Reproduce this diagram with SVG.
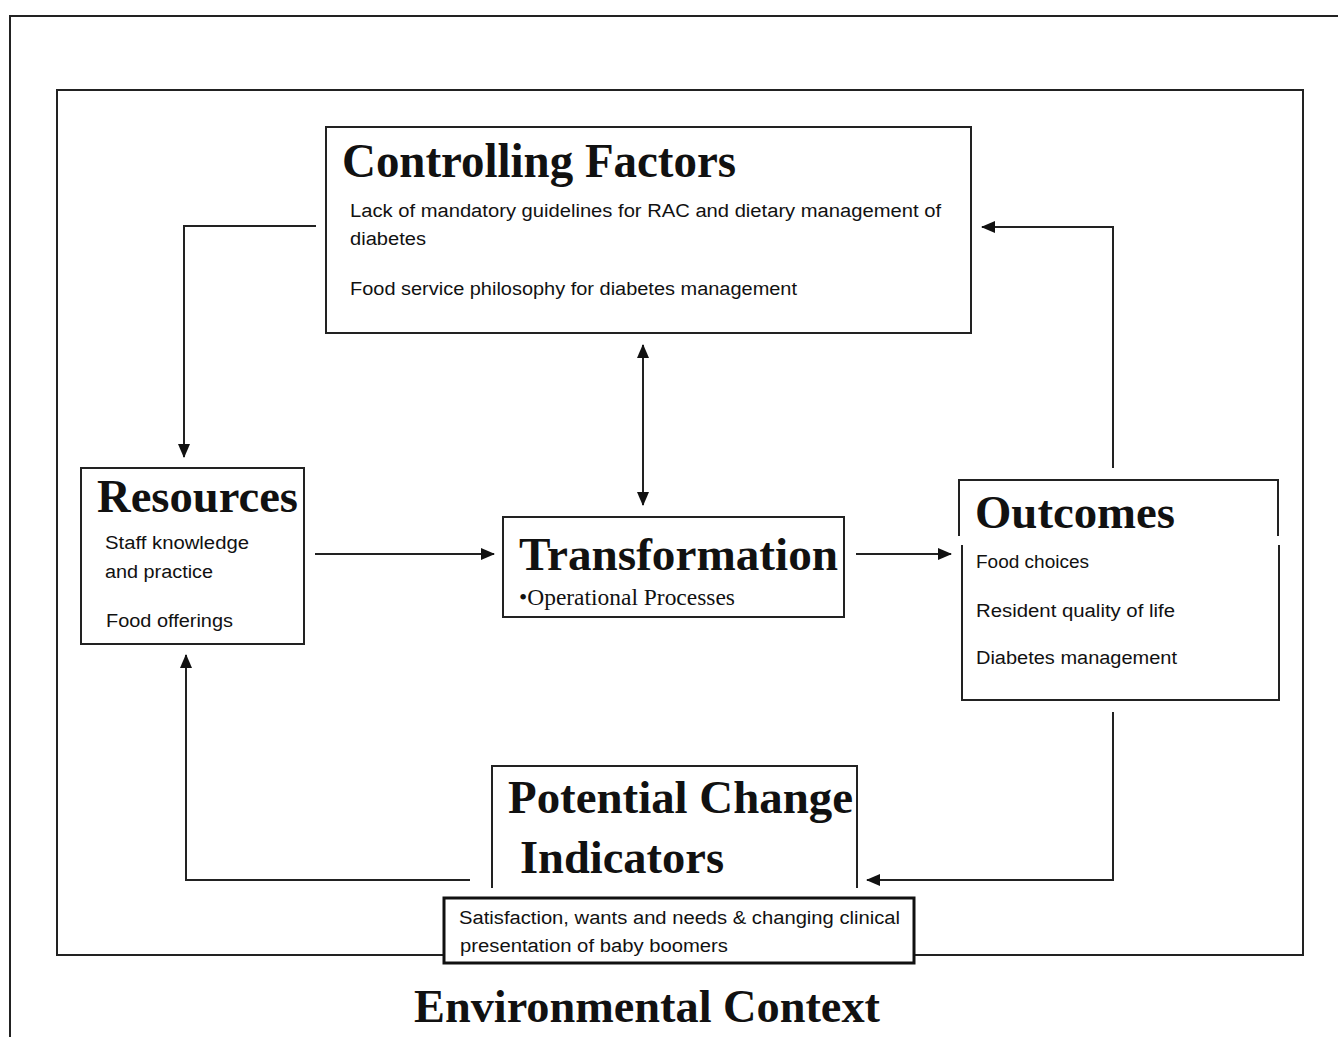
<svg xmlns="http://www.w3.org/2000/svg" width="1338" height="1037" viewBox="0 0 1338 1037">
<style>
.frame{fill:none;stroke:#222;stroke-width:2}
.box{fill:#fff;stroke:#222;stroke-width:2}
.ttl{font-family:"Liberation Serif",serif;font-weight:bold;fill:#111}
.body{font-family:"Liberation Sans",sans-serif;font-size:18px;fill:#111}
.conn{fill:none;stroke:#222;stroke-width:2}
</style>
<defs>
<marker id="ah" viewBox="0 0 14 12" refX="13" refY="6" markerWidth="14" markerHeight="12" markerUnits="userSpaceOnUse" orient="auto-start-reverse">
<path d="M0,0 L14,6 L0,12 z" fill="#111"/>
</marker>
</defs>
<rect width="1338" height="1037" fill="#fff"/>
<g id="outer-frame">
<path class="frame" d="M1338,16 L10,16 L10,1037"/>
</g>
<g id="inner-frame">
<path class="frame" d="M443,955 L57,955 L57,90 L1303,90 L1303,955 L915,955"/>
</g>
<g id="connectors">
<path class="conn" d="M316,226 L184,226 L184,457" marker-end="url(#ah)"/>
<path class="conn" d="M1113,468 L1113,227 L982,227" marker-end="url(#ah)"/>
<path class="conn" d="M643,345 L643,505" marker-start="url(#ah)" marker-end="url(#ah)"/>
<path class="conn" d="M315,554 L494,554" marker-end="url(#ah)"/>
<path class="conn" d="M856,554 L951,554" marker-end="url(#ah)"/>
<path class="conn" d="M1113,712 L1113,880 L867,880" marker-end="url(#ah)"/>
<path class="conn" d="M470,880 L186,880 L186,655" marker-end="url(#ah)"/>
</g>
<g id="controlling-factors">
<rect class="box" x="326" y="127" width="645" height="206"/>
<text class="ttl" x="342" y="177" font-size="48" textLength="394" lengthAdjust="spacingAndGlyphs">Controlling Factors</text>
<text class="body" x="350" y="217" textLength="591" lengthAdjust="spacingAndGlyphs">Lack of mandatory guidelines for RAC and dietary management of</text>
<text class="body" x="350" y="245" textLength="76" lengthAdjust="spacingAndGlyphs">diabetes</text>
<text class="body" x="350" y="295" textLength="447" lengthAdjust="spacingAndGlyphs">Food service philosophy for diabetes management</text>
</g>
<g id="resources">
<rect class="box" x="81" y="468" width="223" height="176"/>
<text class="ttl" x="97" y="512" font-size="46" textLength="201" lengthAdjust="spacingAndGlyphs">Resources</text>
<text class="body" x="105" y="549" textLength="144" lengthAdjust="spacingAndGlyphs">Staff knowledge</text>
<text class="body" x="105" y="578" textLength="108" lengthAdjust="spacingAndGlyphs">and practice</text>
<text class="body" x="106" y="627" textLength="127" lengthAdjust="spacingAndGlyphs">Food offerings</text>
</g>
<g id="transformation">
<rect class="box" x="503" y="517" width="341" height="100"/>
<text class="ttl" x="519" y="570" font-size="46" textLength="319" lengthAdjust="spacingAndGlyphs">Transformation</text>
<text x="519" y="605" font-family="Liberation Serif, serif" font-size="24" fill="#111" textLength="216" lengthAdjust="spacingAndGlyphs">•Operational Processes</text>
</g>
<g id="outcomes">
<rect x="960" y="480" width="319" height="220" fill="#fff"/>
<path class="frame" d="M959,536 L959,480 L1278,480 L1278,536"/>
<path class="frame" d="M962,545 L962,700 L1279,700 L1279,545"/>
<text class="ttl" x="975" y="528" font-size="46" textLength="200" lengthAdjust="spacingAndGlyphs">Outcomes</text>
<text class="body" x="976" y="568" textLength="113" lengthAdjust="spacingAndGlyphs">Food choices</text>
<text class="body" x="976" y="617" textLength="199" lengthAdjust="spacingAndGlyphs">Resident quality of life</text>
<text class="body" x="976" y="664" textLength="201" lengthAdjust="spacingAndGlyphs">Diabetes management</text>
</g>
<g id="potential-change-indicators">
<rect x="492" y="766" width="365" height="125" fill="#fff"/>
<path class="frame" d="M492,888 L492,766 L857,766 L857,888"/>
<text class="ttl" x="508" y="813" font-size="46" textLength="345" lengthAdjust="spacingAndGlyphs">Potential Change</text>
<text class="ttl" x="520" y="873" font-size="46" textLength="204" lengthAdjust="spacingAndGlyphs">Indicators</text>
</g>
<g id="satisfaction">
<rect x="444" y="898" width="470" height="65" fill="#fff" stroke="#111" stroke-width="3"/>
<text class="body" x="459" y="924" textLength="441" lengthAdjust="spacingAndGlyphs">Satisfaction, wants and needs &amp; changing clinical</text>
<text class="body" x="460" y="952" textLength="268" lengthAdjust="spacingAndGlyphs">presentation of baby boomers</text>
</g>
<g id="environmental-context">
<text class="ttl" x="414" y="1022" font-size="46" textLength="466" lengthAdjust="spacingAndGlyphs">Environmental Context</text>
</g>
</svg>
